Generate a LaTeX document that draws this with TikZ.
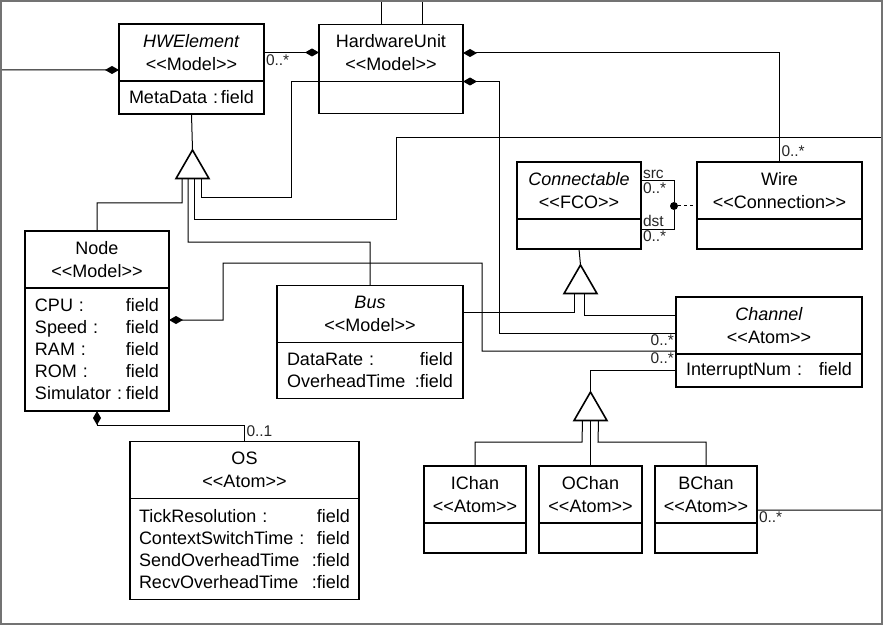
\documentclass[tikz,border=0pt]{standalone}
\usepackage{fontspec}
\setmainfont{Liberation Sans}
\usetikzlibrary{arrows.meta}
\usetikzlibrary{shapes.geometric}

\newcommand{\stereo}[1]{<\kern0pt<#1>\kern0pt>}
\newcommand{\titlesize}{\fontsize{18bp}{23bp}\selectfont}
\newcommand{\attrsize}{\fontsize{18bp}{22bp}\selectfont}
\newcommand{\multsize}{\fontsize{15.5bp}{16bp}\selectfont}

\tikzset{
    classhead/.style={draw, line width=1.8bp, inner sep=0pt, outer sep=0pt, minimum height=57bp, align=center, font=\titlesize},
    classbody/.style={draw, line width=1.8bp, anchor=north, inner xsep=10bp, inner ysep=0pt, outer sep=0pt, align=left, font=\attrsize},
    gentri/.style={draw, line width=1.6bp, fill=white, regular polygon, regular polygon sides=3, minimum size=38bp, inner sep=0pt, outer sep=0pt},
    link/.style={line width=1bp},
    comp/.style={link, -{Diamond[length=14bp,width=8bp]}},
    mult/.style={font=\multsize, text=black!85, inner sep=1.5bp},
}

\begin{document}
\begin{tikzpicture}[x=1bp,y=-1bp]
    \useasboundingbox (0,0) rectangle (883,625);
    \draw[black!55, line width=2bp] (1,1) rectangle (881.8,623.5);

    % classes
    \node[classhead, minimum width=145bp] (hwe) at (191.5,52.5) {\textit{HWElement}\\\stereo{Model}};
    \node[classbody, text width=125bp, minimum height=33bp] (hweattr) at (hwe.south) {MetaData :\hfill field};

    \node[classhead, minimum width=144bp] (hwu) at (391,53) {HardwareUnit\\\stereo{Model}};
    \node[classbody, text width=124bp, minimum height=32bp] (hwuattr) at (hwu.south) {};

    \node[classhead, minimum width=124bp] (conn) at (579,190.5) {\textit{Connectable}\\\stereo{FCO}};
    \node[classbody, text width=104bp, minimum height=30bp] (connattr) at (conn.south) {};

    \node[classhead, minimum width=165bp] (wire) at (779.5,190.5) {Wire\\\stereo{Connection}};
    \node[classbody, text width=145bp, minimum height=30bp] (wireattr) at (wire.south) {};

    \node[classhead, minimum width=144bp] (cpunode) at (97,259.5) {Node\\\stereo{Model}};
    \node[classbody, text width=124bp, minimum height=123bp] (cpunodeattr) at (cpunode.south)
        {CPU :\hfill field\\Speed :\hfill field\\RAM :\hfill field\\ROM :\hfill field\\Simulator :\hfill field};

    \node[classhead, minimum width=186bp] (bus) at (370,314) {\textit{Bus}\\\stereo{Model}};
    \node[classbody, text width=166bp, minimum height=56bp] (busattr) at (bus.south)
        {DataRate :\hfill field\\OverheadTime \hfill:field};

    \node[classhead, minimum width=186bp] (chan) at (769,325.5) {\textit{Channel}\\\stereo{Atom}};
    \node[classbody, text width=166bp, minimum height=33bp] (chanattr) at (chan.south) {InterruptNum :\hfill field};

    \node[classhead, minimum width=229bp] (os) at (244.5,470) {OS\\\stereo{Atom}};
    \node[classbody, text width=211bp, inner xsep=9bp, minimum height=101bp] (osattr) at (os.south)
        {TickResolution :\hfill field\\ContextSwitchTime :\hfill field\\SendOverheadTime \hfill:field\\RecvOverheadTime \hfill:field};

    \node[classhead, minimum width=102bp] (ichan) at (475,494.5) {IChan\\\stereo{Atom}};
    \node[classbody, text width=82bp, minimum height=30bp] (ichanattr) at (ichan.south) {};
    \node[classhead, minimum width=103bp] (ochan) at (590.5,494.5) {OChan\\\stereo{Atom}};
    \node[classbody, text width=83bp, minimum height=30bp] (ochanattr) at (ochan.south) {};
    \node[classhead, minimum width=102bp] (bchan) at (706,494.5) {BChan\\\stereo{Atom}};
    \node[classbody, text width=82bp, minimum height=30bp] (bchanattr) at (bchan.south) {};

    % inheritance triangles
    \node[gentri] (hwetri) at (192.5,169) {};
    \node[gentri] (conntri) at (580.5,284) {};
    \node[gentri] (chantri) at (590.5,411) {};

    % ends outside the picture
    \coordinate (westend) at (2,70);
    \coordinate (topend1) at (381,2);
    \coordinate (topend2) at (422,2);
    \coordinate (eastend1) at (881,138);
    \coordinate (eastend2) at (881,510);

    % compositions
    \draw[comp] (westend) -- ([yshift=-17.5bp]hwe.west);
    \draw[link] (topend1) -- (topend1 |- hwu.north);
    \draw[link] (topend2) -- (topend2 |- hwu.north);
    \draw[comp] (hwe.east) node[mult, below right] {0..*} -- (hwe.east -| hwu.west);
    \draw[comp] (wire.north) node[mult, above right, yshift=3bp] {0..*} |- (hwu.east);
    \draw[comp] ([yshift=-7.5bp]chan.west) node[mult, below left] {0..*} -| ([xshift=36bp]hwu.south east) -- (hwu.south east);
    \draw[comp] ([yshift=3bp]chan.south west) node[mult, below left] {0..*} -| (482,263) -| (223,320) -- ([yshift=29.5bp]cpunodeattr.east);
    \draw[comp] (os.north) node[mult, above right, yshift=3bp] {0..1} |- (97,425) -- (cpunodeattr.south);
    \draw[link] ([yshift=-15.5bp]bchan.east) node[mult, below right] {0..*} -- (eastend2);

    % wire connection
    \node[circle, fill, inner sep=0pt, minimum size=8bp] (wiredot) at (674,206) {};
    \draw[link] ([yshift=9.5bp]conn.east) node[mult, above right] {src} node[mult, below right] {0..*}
        -| (wiredot) |- ([yshift=5bp]connattr.east) node[mult, above right] {dst} node[mult, below right] {0..*};
    \draw[link, dash pattern=on 3bp off 3bp] (wiredot) -- (wiredot -| wire.west);

    % inheritance
    \draw[link] (hweattr.south) -- (hwetri.north);
    \draw[link] (cpunode.north) |- (182,203) -- ([xshift=-10.5bp]hwetri.south);
    \draw[link] (bus.north) |- (188,242) -- ([xshift=-4.5bp]hwetri.south);
    \draw[link] (eastend1) -| (396,220) -| ([xshift=2bp]hwetri.south);
    \draw[link] (hwu.south west) -| (291,198) -| ([xshift=8.5bp]hwetri.south);

    \draw[link] (connattr.south) -- (conntri.north);
    \draw[link] ([yshift=2bp]bus.east) -| ([xshift=-6bp]conntri.south);
    \draw[link] ([yshift=10.5bp]chan.west) -| ([xshift=4bp]conntri.south);

    \draw[link] (chanattr.west) -| (chantri.north);
    \draw[link] (ichan.north) |- (582,442) -- ([xshift=-8bp]chantri.south);
    \draw[link] (ochan.north) -- (chantri.south);
    \draw[link] (bchan.north) |- (598,442) -- ([xshift=8bp]chantri.south);
\end{tikzpicture}
\end{document}
